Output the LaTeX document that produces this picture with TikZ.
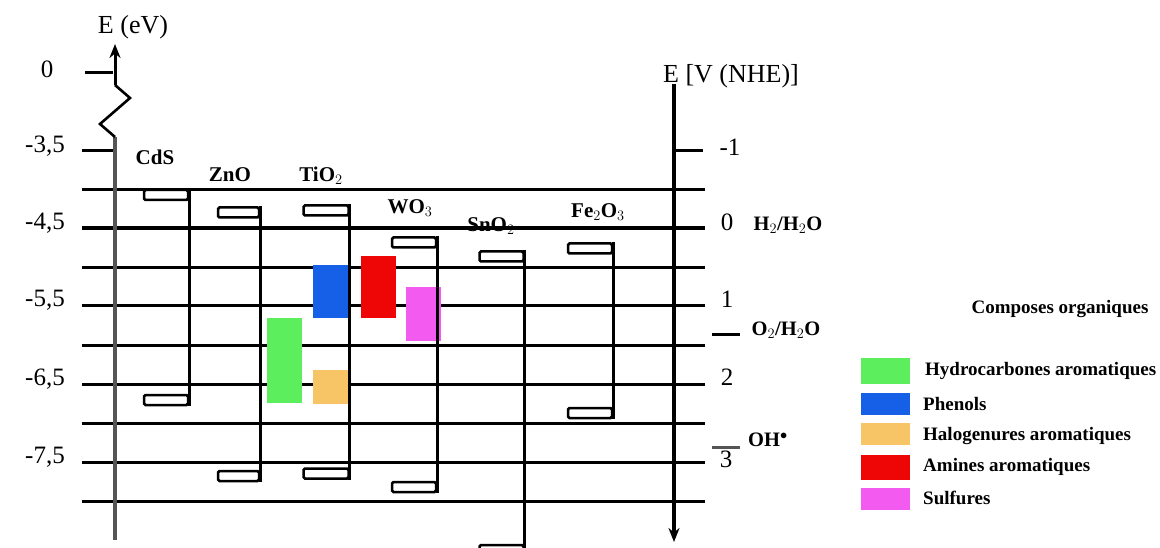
\documentclass[tikz,border=0pt]{standalone}
\usepackage{fontspec}
\setmainfont{Liberation Serif}
\usetikzlibrary{arrows.meta}
\begin{document}
\begin{tikzpicture}[x=1pt,y=-1pt,
  hline/.style={line width=3pt,black},
  tick/.style={line width=3pt,black},
  band/.style={draw=black,line width=2.5pt,fill=white,inner sep=0pt,minimum width=44pt,minimum height=10pt,rounded corners=1.5pt},
  bandline/.style={line width=3pt,black},
  zone/.style={draw=none,inner sep=0pt,minimum width=35pt},
  sw/.style={draw=none,inner sep=0pt,minimum width=49pt},
  num/.style={font=\fontsize{25}{27}\selectfont,inner sep=0pt},
  semi/.style={font=\fontsize{21}{23}\selectfont\bfseries,inner sep=0pt},
  redox/.style={font=\fontsize{20.5}{22}\selectfont\bfseries,inner sep=0pt},
  leg/.style={font=\fontsize{19}{21}\selectfont\bfseries,inner sep=0pt,anchor=west},
  arr/.style={-{Stealth[length=14pt,width=11pt]}}
]
\definecolor{cgreen}{HTML}{5CEE5C}
\definecolor{cblue}{HTML}{1560E6}
\definecolor{corange}{HTML}{F8C566}
\definecolor{cred}{HTML}{EE0505}
\definecolor{cmag}{HTML}{F25AF0}
\definecolor{axgray}{HTML}{555555}
\useasboundingbox (0,0) rectangle (1160,548);

% horizontal grid lines
\foreach \yy in {190,268,306,345,384,423,462,501}
  \draw[hline] (82,\yy) -- (705,\yy);
\draw[line width=4.2pt] (82,228) -- (705,228);

% left axis ticks
\draw[tick] (85,73) -- (113,73);
\draw[tick] (82,151) -- (113,151);

% left axis
\coordinate (lbot) at (115,540);
\coordinate (lz1) at (115,137);
\coordinate (lz2) at (100,124);
\coordinate (lz3) at (130,98);
\coordinate (lz4) at (115,85);
\coordinate (ltop) at (115,44);
\draw[line width=4pt,axgray] (lbot) -- (lz1);
\draw[line width=2.6pt,line join=miter] (lz1) -- (lz2) -- (lz3) -- (lz4);
\draw[line width=3pt,arr] (lz4) -- (ltop);
\node[font=\fontsize{26}{28}\selectfont,inner sep=0pt] (lax) at (133,27) {E (eV)};

% left numbers
\node[num] (n0) at (47,69) {0};
\node[num] (n35) at (45,146) {-3,5};
\node[num] (n45) at (45,223) {-4,5};
\node[num] (n55) at (45,300) {-5,5};
\node[num] (n65) at (45,379) {-6,5};
\node[num] (n75) at (45,457) {-7,5};

% right axis
\coordinate (rtop) at (674,84);
\coordinate (rbot) at (674,542);
\draw[line width=3.4pt,arr] (rtop) -- (rbot);
\node[font=\fontsize{26}{28}\selectfont,inner sep=0pt] (rax) at (731,76) {E [V (NHE)]};
\draw[tick] (674,151) -- (703,151);
\draw[tick] (712,334) -- (740,334);
\draw[tick,axgray] (712,447) -- (740,447);
\node[num] (r1) at (730,147) {-1};
\node[num] (r0) at (727,222) {0};
\node[num] (rp1) at (727,299) {1};
\node[num] (rp2) at (727,377) {2};
\node[num] (rp3) at (726,459) {3};
\node[redox] (h2) at (788,225) {H$_2$/H$_2$O};
\node[redox] (o2) at (786,330) {O$_2$/H$_2$O};
\node[redox] (oh) at (768,440) {OH$^\bullet$};

% organic compound zones
\node[zone,fill=cgreen,minimum height=85pt] (zg) at (284.5,360.5) {};
\node[zone,fill=cblue,minimum height=53pt] (zb) at (330,291.5) {};
\node[zone,fill=corange,minimum height=34pt] (zo) at (330,387) {};
\node[zone,fill=cred,minimum height=62pt] (zr) at (378.5,287) {};
\node[zone,fill=cmag,minimum height=54pt] (zm) at (423,314) {};

% semiconductors
\node[band] (cdsC) at (166,195) {};
\node[band] (cdsV) at (166,400) {};
\draw[bandline] (cdsC.north east) -- (cdsV.south east);
\node[semi] (cds) at (155,157) {CdS};

\node[band,minimum width=41pt] (znoC) at (238.5,212.5) {};
\node[band,minimum width=41pt] (znoV) at (238.5,476) {};
\draw[bandline] (znoC.north east) -- (znoV.south east);
\node[semi] (zno) at (230,175) {ZnO};

\node[band,minimum width=45pt] (tioC) at (326,210.5) {};
\node[band,minimum width=45pt] (tioV) at (326,473.5) {};
\draw[bandline] (tioC.north east) -- (tioV.south east);
\node[semi] (tio) at (321,176) {TiO$_2$};

\node[band] (woC) at (414,242.5) {};
\node[band] (woV) at (414,487) {};
\draw[bandline] (woC.north east) -- (woV.south east);
\node[semi] (wo) at (410,208) {WO$_3$};

\node[band] (snC) at (501.5,256.5) {};
\node[band] (snV) at (501.5,550) {};
\draw[bandline] (snC.north east) -- (snV.south east);
\node[semi] (sn) at (491,226) {SnO$_2$};

\node[band] (feC) at (590,248.5) {};
\node[band] (feV) at (590,413) {};
\draw[bandline] (feC.north east) -- (feV.south east);
\node[semi] (fe) at (598,212) {Fe$_2$O$_3$};

% legend
\node[font=\fontsize{19}{21}\selectfont\bfseries,inner sep=0pt] (lt) at (1060,309) {Composes organiques};
\node[sw,fill=cgreen,minimum height=26pt] (s1) at (885.5,371) {};
\node[sw,fill=cblue,minimum height=22pt] (s2) at (885.5,404) {};
\node[sw,fill=corange,minimum height=22pt] (s3) at (885.5,434) {};
\node[sw,fill=cred,minimum height=25pt] (s4) at (885.5,467.5) {};
\node[sw,fill=cmag,minimum height=22pt] (s5) at (885.5,499) {};
\node[leg] (l1) at (925,371) {Hydrocarbones aromatiques};
\node[leg] (l2) at (923,404) {Phenols};
\node[leg] (l3) at (923,436) {Halogenures aromatiques};
\node[leg] (l4) at (923,467) {Amines aromatiques};
\node[leg] (l5) at (923,498) {Sulfures};
\end{tikzpicture}
\end{document}
